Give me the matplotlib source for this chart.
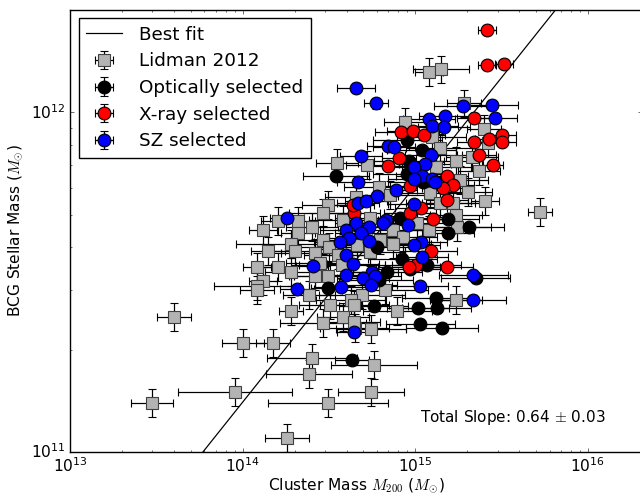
import numpy as np
import matplotlib
matplotlib.use("Agg")
import matplotlib.pyplot as plt

plt.style.use("classic")
plt.rcParams["axes.linewidth"] = 1.25
plt.rcParams["patch.linewidth"] = 1.25

# log10 cluster mass, log10 stellar mass, symmetric x error (dex)
grey_logm = [15.080,15.150,15.283,14.941,15.399,15.422,15.097,15.144,15.236,15.329,14.547,14.721,15.121,15.370,15.260,14.790,15.086,15.306,15.405,14.495,14.657,14.854,15.144,15.219,14.321,14.205,14.118,14.402,14.321,14.466,14.582,14.738,14.871,14.929,15.080,15.242,15.236,15.011,14.280,14.304,14.147,14.466,14.501,14.420,14.663,14.796,14.871,14.738,14.553,14.449,14.576,14.083,14.205,14.280,14.118,14.420,14.495,14.083,14.083,14.385,14.692,14.825,14.628,14.506,14.646,15.236,14.280,14.895,14.582,14.466,14.744,14.651,14.646,14.002,14.176,14.402,14.385,14.761,13.956,14.744,13.475,14.495,14.257,13.603,15.723]
grey_logs = [12.118,12.126,12.026,11.971,11.950,11.909,11.926,11.894,11.856,11.868,11.850,11.844,11.838,11.826,11.800,11.779,11.762,11.765,11.738,11.726,11.750,11.756,11.732,11.732,11.679,11.679,11.653,11.662,11.644,11.703,11.682,11.688,11.653,11.632,11.653,11.662,11.697,11.673,11.612,11.591,11.591,11.623,11.603,11.585,11.609,11.623,11.612,11.588,11.579,11.556,11.550,11.544,11.544,11.529,11.503,11.518,11.518,11.488,11.476,11.462,11.462,11.476,11.447,11.432,11.432,11.447,11.415,11.415,11.397,11.379,11.362,11.365,11.382,11.321,11.321,11.276,11.229,11.256,11.176,11.176,11.144,11.144,11.041,11.397,11.706]
grey_xerr = [.08,.16,.1,.12,.1,.1,.2,.2,.15,.15,.12,.12,.2,.12,.16,.2,.22,.14,.08,.15,.18,.2,.2,.18,.1,.1,.08,.15,.1,.2,.2,.2,.2,.2,.15,.2,.15,.2,.32,.15,.1,.15,.2,.2,.2,.25,.22,.2,.2,.2,.25,.08,.1,.15,.08,.15,.2,.25,.1,.15,.25,.25,.2,.18,.2,.15,.07,.2,.15,.25,.2,.2,.15,.12,.1,.26,.25,.25,.33,.19,.12,.35,.13,.1,.07]
grey_yerr = 0.041

black_logm = [14.541,14.953,15.039,14.964,14.953,15.045,14.912,15.190,15.312,15.190,14.779,14.924,15.068,14.970,14.837,15.352,15.121,14.761,15.016,15.126,15.028,15.155,14.790,14.634,14.495]
black_logs = [11.812,11.918,11.888,11.856,11.818,11.794,11.688,11.685,11.662,11.644,11.603,11.568,11.550,11.538,11.529,11.512,11.453,11.429,11.424,11.424,11.376,11.365,11.506,11.271,11.482]
black_xerr = [.19,.2,.2,.2,.2,.2,.2,.18,.2,.15,.2,.2,.2,.2,.2,.2,.2,.2,.18,.2,.2,.21,.2,.1,.1]

red_logm = [15.416,15.416,15.515,15.341,14.918,14.987,15.051,15.503,15.428,15.341,15.503,15.370,15.451,14.842,14.906,15.184,15.219,15.161,15.184,14.970,15.034,14.970,14.646,14.640,15.103,15.092,15.005,14.964,15.184]
red_logs = [12.241,12.138,12.141,11.982,11.941,11.944,11.932,11.932,11.921,11.912,11.912,11.873,11.844,11.841,11.865,11.812,11.785,11.776,11.741,11.782,11.718,11.703,11.703,11.726,11.685,11.591,11.550,11.544,11.544]
red_xerr = [.05,.05,.05,.1,.15,.15,.12,.08,.08,.1,.08,.1,.06,.1,.1,.12,.12,.12,.12,.15,.15,.15,.15,.12,.12,.15,.18,.18,.15]

blue_logm = [14.657,14.773,15.277,15.445,15.462,15.080,15.173,15.097,15.167,14.842,14.877,14.686,15.092,15.057,14.993,14.669,15.039,14.993,15.097,15.115,14.889,14.779,14.993,14.669,14.715,14.257,14.657,14.831,14.814,14.958,14.732,14.599,14.686,14.617,14.564,14.732,15.034,14.993,14.599,14.640,14.408,15.039,14.599,14.750,14.698,14.767,14.744,14.570,14.315,15.335,15.028,15.335,14.646]
blue_logs = [12.071,12.026,12.018,12.021,11.982,11.979,11.988,11.959,11.956,11.900,11.897,11.871,11.873,11.847,11.838,11.794,11.812,11.803,11.803,11.794,11.771,11.753,11.729,11.732,11.738,11.688,11.673,11.682,11.673,11.668,11.662,11.653,11.644,11.629,11.618,11.621,11.618,11.609,11.579,11.553,11.547,11.574,11.521,11.529,11.512,11.518,11.491,11.485,11.479,11.521,11.488,11.447,11.353]
blue_xerr = [.11,.07,.17,.15,.13,.15,.15,.15,.15,.12,.12,.12,.15,.15,.15,.12,.15,.15,.15,.15,.12,.12,.15,.12,.12,.1,.12,.15,.15,.15,.15,.15,.15,.15,.15,.15,.15,.15,.15,.15,.1,.15,.15,.15,.15,.15,.15,.15,.1,.2,.16,.19,.1]
colour_yerr = 0.015

fit_slope = 0.637
fit_pivot_logm = 13.77
fit_pivot_logs = 11.0
fit_logm = [13.0, 16.3]

x_limits = (1e13, 10 ** 16.314)
y_limits = (1e11, 2e12)


def bars(logm, logs, xerr, yerr, **kw):
    logm, logs, xerr = map(np.asarray, (logm, logs, xerr))
    x = 10.0 ** logm
    y = 10.0 ** logs
    xe = [x - 10.0 ** (logm - xerr), 10.0 ** (logm + xerr) - x]
    ye = [y - 10.0 ** (logs - yerr), 10.0 ** (logs + yerr) - y]
    return ax.errorbar(x, y, xerr=xe, yerr=ye, ls="none", ecolor="k",
                       elinewidth=1.1, capsize=4, capthick=1.1, mew=1, **kw)


fig = plt.figure(figsize=(8, 6.2), dpi=80, facecolor="white")
ax = fig.add_axes([70 / 640, 44 / 496, 572 / 640, 442 / 496])

h_grey = bars(grey_logm, grey_logs, grey_xerr, grey_yerr, fmt="s", ms=11.5,
              mfc="0.7", mec="0.25", label="Lidman 2012")
h_black = bars(black_logm, black_logs, black_xerr, colour_yerr, fmt="o", ms=11.5,
               mfc="k", mec="k", label="Optically selected")
h_red = bars(red_logm, red_logs, red_xerr, colour_yerr, fmt="o", ms=11.5,
             mfc="r", mec="k", label="X-ray selected")
h_blue = bars(blue_logm, blue_logs, blue_xerr, colour_yerr, fmt="o", ms=11.5,
              mfc="b", mec="k", label="SZ selected")

fm = np.array(fit_logm)
h_line, = ax.plot(10.0 ** fm, 10.0 ** (fit_pivot_logs + fit_slope * (fm - fit_pivot_logm)),
                  "k-", lw=1.1, label="Best fit")

ax.set_xscale("log")
ax.set_yscale("log")
ax.set_xlim(*x_limits)
ax.set_ylim(*y_limits)
ax.set_xlabel(r"Cluster Mass $M_{200}$ ($M_{\odot}$)", fontsize=13.8, labelpad=1.5)
ax.set_ylabel(r"BCG Stellar Mass ($M_{\odot}$)", fontsize=13.8)
ax.tick_params(labelsize=14)

ax.legend(handles=[h_line, h_grey, h_black, h_red, h_blue], loc="upper left",
          fontsize=16.5, numpoints=1, bbox_to_anchor=(0.015, 0.981), borderaxespad=0,
          labelspacing=0.47, handletextpad=0.95, handlelength=1.95)
ax.text(0.612, 0.077, r"Total Slope: 0.64 $\pm$ 0.03", transform=ax.transAxes,
        fontsize=13.7, va="center", ha="left")

fig.savefig("out.png", dpi=80, facecolor="white")
